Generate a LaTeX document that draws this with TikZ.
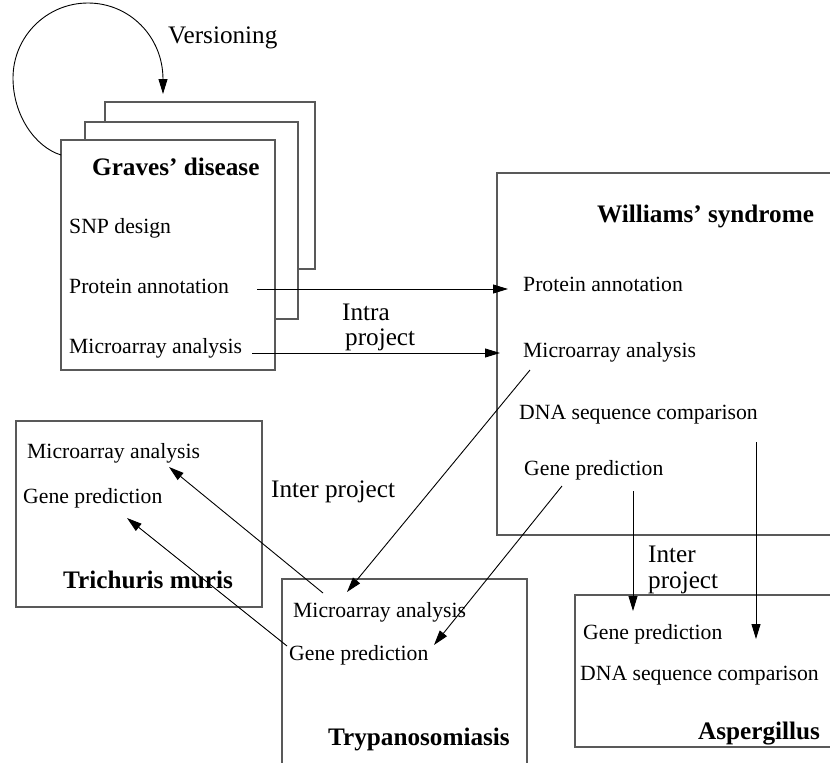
\documentclass[tikz,border=0pt]{standalone}
\usepackage{fontspec}
\setmainfont{Liberation Serif}
\usetikzlibrary{arrows.meta}
\begin{document}
\begin{tikzpicture}[x=1pt,y=-1pt,
  boxline/.style={draw=black!65,line width=1.1pt},
  item/.style={anchor=base west,inner sep=0pt,font=\fontsize{21.7}{24}\selectfont},
  title/.style={anchor=base west,inner sep=0pt,font=\fontsize{25.2}{27}\selectfont\bfseries},
  lbl/.style={anchor=base west,inner sep=0pt,align=left,font=\fontsize{25.2}{25.5}\selectfont},
  link/.style={draw=black,line width=0.9pt,-{Triangle[length=15pt,width=9pt]}}]
\useasboundingbox (0,0) rectangle (830,763);
\clip (0,0) rectangle (830,763);

% Graves' disease: stacked versions
\draw[boxline] (105,122) -- (105,102) -- (315,102) -- (315,269) -- (298,269);
\draw[boxline] (85,140) -- (85,122) -- (298,122) -- (298,319) -- (275,319);
\draw[boxline] (61,140) rectangle (275,370);
\node[title] (gT) at (92,175) {Graves’ disease};
\node[item] (gSNP) at (69,233) {SNP design};
\node[item] (gPA) at (69,293) {Protein annotation};
\node[item] (gMA) at (69,353) {Microarray analysis};

% versioning loop
\coordinate (vS) at (61,155);
\coordinate (vE) at (163,94);
\draw[link] (vS) .. controls (35,147) and (13,115) .. (13,78)
  .. controls (13,36.6) and (46.6,3) .. (88,3)
  .. controls (129.4,3) and (163,36.6) .. (vE);
\node[lbl] (vL) at (168,43) {Versioning};

% Williams' syndrome
\draw[boxline] (497,173) rectangle (850,535);
\node[title] (wT) at (597,222) {Williams’ syndrome};
\node[item] (wPA) at (523,291) {Protein annotation};
\node[item] (wMA) at (523,357) {Microarray analysis};
\node[item] (wDNA) at (519,419) {DNA sequence comparison};
\node[item] (wGP) at (524,475) {Gene prediction};

% Trichuris muris
\draw[boxline] (16,421) rectangle (262,607);
\node[item] (rMA) at (27,458) {Microarray analysis};
\node[item] (rGP) at (23,503) {Gene prediction};
\node[title] (rT) at (63,588) {Trichuris muris};

% Trypanosomiasis
\draw[boxline] (282,579) rectangle (527,780);
\node[item] (tMA) at (293,617) {Microarray analysis};
\node[item] (tGP) at (289,660) {Gene prediction};
\node[title] (tT) at (328,745) {Trypanosomiasis};

% Aspergillus
\draw[boxline] (575,595) rectangle (850,747);
\node[item] (aGP) at (583,639) {Gene prediction};
\node[item] (aDNA) at (580,680) {DNA sequence comparison};
\node[title] (aT) at (698,739) {Aspergillus};

% link labels (base anchor sits on the last line)
\node[lbl] (intra) at (342,345) {Intra\\[-1pt]\hspace*{3pt}project};
\node[lbl] (inter1) at (271,497) {Inter project};
\node[lbl] (inter2) at (648,588) {Inter\\project};

% connector end points
\coordinate (gPAo) at (257,289);
\coordinate (wPAi) at (508,289);
\coordinate (gMAo) at (252,353);
\coordinate (wMAi) at (500,353);
\coordinate (wMAo) at (530,370);
\coordinate (tMAi) at (347,592);
\coordinate (wGPo) at (562,486);
\coordinate (tGPi) at (434,645);
\coordinate (wGPd) at (633,491);
\coordinate (aGPi) at (633,611);
\coordinate (wDNAo) at (756,442);
\coordinate (aDNAi) at (756,639);
\coordinate (tMAo) at (323,593);
\coordinate (rMAi) at (169,467);
\coordinate (tGPo) at (287,646);
\coordinate (rGPi) at (127,518);

% connectors
\draw[link] (gPAo) -- (wPAi);
\draw[link] (gMAo) -- (wMAi);
\draw[link] (wMAo) -- (tMAi);
\draw[link] (wGPo) -- (tGPi);
\draw[link] (wGPd) -- (aGPi);
\draw[link] (wDNAo) -- (aDNAi);
\draw[link] (tMAo) -- (rMAi);
\draw[link] (tGPo) -- (rGPi);
\end{tikzpicture}
\end{document}
